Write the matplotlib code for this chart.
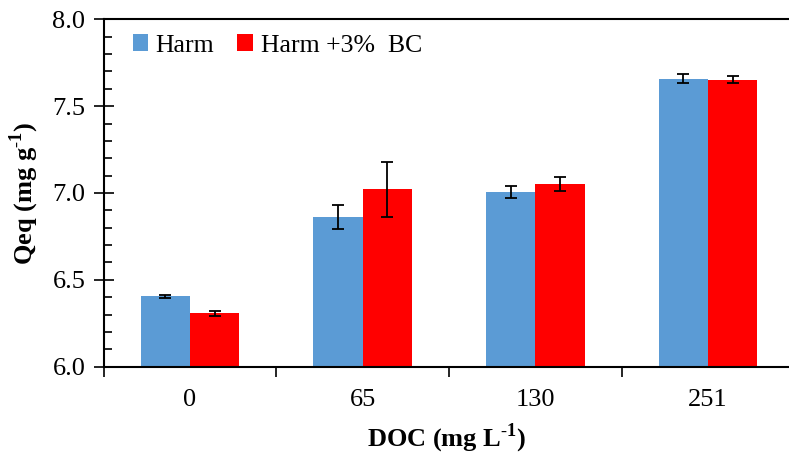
import matplotlib
matplotlib.use("Agg")
import matplotlib.pyplot as plt
import numpy as np

plt.rcParams["font.family"] = ["Liberation Serif", "DejaVu Serif"]
plt.rcParams["mathtext.fontset"] = "custom"
plt.rcParams["mathtext.rm"] = "Liberation Serif"
plt.rcParams["mathtext.bf"] = "Liberation Serif:bold"

# DOC levels and equilibrium uptake
doc = ["0", "65", "130", "251"]
harm = [6.405, 6.860, 7.006, 7.658]
harm_err = [0.010, 0.070, 0.032, 0.026]
harm_bc = [6.307, 7.021, 7.052, 7.652]
harm_bc_err = [0.013, 0.160, 0.041, 0.021]

blue = "#5B9BD5"
red = "#FF0000"

fig = plt.figure(figsize=(7.89, 4.57), dpi=100)
ax = fig.add_axes([0.1312, 0.1976, 0.8688, 0.7602])

x = np.arange(len(doc))
w = 0.2857
err_kw = dict(ecolor="black", elinewidth=1.3, capsize=4.2, capthick=1.3)
ax.bar(x - w / 2, harm, w, yerr=harm_err, color=blue, label="Harm", error_kw=err_kw)
ax.bar(x + w / 2, harm_bc, w, yerr=harm_bc_err, color=red, label="Harm +3%  BC", error_kw=err_kw)

ax.set_xlim(-0.5, 3.47)
ax.set_ylim(6.0, 8.0)
ax.set_yticks(np.arange(6.0, 8.01, 0.5))
ax.set_yticks(np.arange(6.0, 8.01, 0.1), minor=True)
ax.yaxis.set_major_formatter(matplotlib.ticker.FormatStrFormatter("%.1f"))

# category labels sit between boundary ticks
ax.set_xticks(np.arange(-0.5, 3.5, 1.0))
ax.set_xticklabels([])
ax.set_xticks(x, minor=True)
ax.set_xticklabels(doc, minor=True)
ax.tick_params(axis="x", which="major", direction="out", length=7, width=1.2)
ax.tick_params(axis="x", which="minor", length=0, pad=16, labelsize=19)
ax.tick_params(axis="y", which="major", direction="inout", length=14, width=1.2, labelsize=19, pad=6)
ax.tick_params(axis="y", which="minor", direction="in", length=6, width=1.2)

for s in ["left", "bottom", "top"]:
    ax.spines[s].set_linewidth(1.5)
ax.spines["right"].set_visible(False)

ax.set_ylabel("Qeq (mg g$^{\\mathbf{\\text{-}1}}$)", fontsize=19, fontweight="bold", labelpad=8)
ax.set_xlabel("DOC (mg L$^{\\mathbf{\\text{-}1}}$)", fontsize=19, fontweight="bold", labelpad=8)

ax.legend(loc="upper left", bbox_to_anchor=(0.155, 0.947), bbox_transform=fig.transFigure,
          ncol=2, frameon=False, fontsize=18.5, handlelength=0.6, handleheight=0.6,
          handletextpad=0.3, columnspacing=0.9, borderaxespad=0)

fig.savefig("out.png", dpi=100)
